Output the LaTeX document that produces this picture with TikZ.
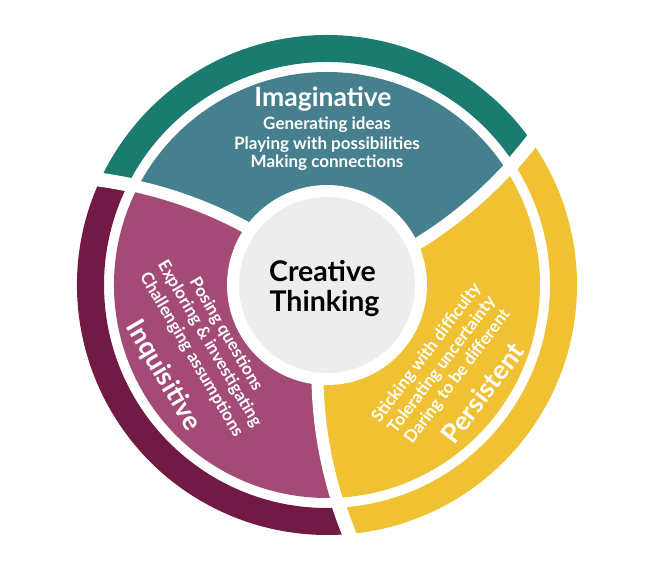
\documentclass[tikz,border=0pt]{standalone}
\usepackage{fontspec}
\setmainfont{Lato}
\definecolor{tealout}{HTML}{1B7B6E}
\definecolor{tealin}{HTML}{467F8D}
\definecolor{magin}{HTML}{A34B76}
\definecolor{marout}{HTML}{701A45}
\definecolor{yel}{HTML}{F0C233}
\definecolor{graybg}{HTML}{EDEDED}
\newcommand{\innersector}[3]{%
  \fill[#1] (0,0) -- plot[domain=90:213,samples=25] ({#2+0.07*(\x-100)}:{\x})
    arc[start angle={#2+0.07*113}, end angle={#3+0.07*113}, radius=213]
    -- plot[domain=213:90,samples=25] ({#3+0.07*(\x-100)}:{\x}) -- cycle;}
\newcommand{\outerseg}[3]{%
  \fill[#1] plot[domain=223:250,samples=8] ({#2+0.07*(\x-100)}:{\x})
    arc[start angle={#2+0.07*150}, end angle={#3+0.07*150}, radius=250]
    -- plot[domain=250:223,samples=8] ({#3+0.07*(\x-100)}:{\x})
    arc[start angle={#3+0.07*123}, end angle={#2+0.07*123}, radius=223] -- cycle;}
\begin{document}
\begin{tikzpicture}[x=1pt,y=1pt,
  ttl/.style={text=white, font=\bfseries\fontsize{26.5}{30}\selectfont, inner sep=0pt},
  itm/.style={text=white, font=\bfseries\fontsize{17}{19}\selectfont, inner sep=0pt},
  ctr/.style={text=black, font=\bfseries\fontsize{28.5}{32}\selectfont, inner sep=0pt}]
\useasboundingbox (-327,-281) rectangle (323,285);
% inner sectors
\innersector{tealin}{24.6}{144.6}
\innersector{magin}{144.6}{264.6}
\innersector{yel}{264.6}{384.6}
% outer ring
\outerseg{tealout}{24.6}{144.6}
\outerseg{marout}{144.6}{264.6}
\outerseg{yel}{264.6}{384.6}
% gaps
\foreach \t in {24.6,144.6,264.6}{
  \draw[white, line width=12pt] plot[domain=92:218,samples=25] ({\t+0.07*(\x-100)}:{\x});
  \draw[white, line width=14pt] plot[domain=216:258,samples=10] ({\t+0.07*(\x-100)}:{\x});
}
% centre
\fill[white] (0,0) circle[radius=100];
\fill[graybg] (0,0) circle[radius=88];
\node[ctr, anchor=base] (c1) at (-4.5,3.5) {Creative};
\node[ctr, anchor=base] (c2) at (-2.5,-26.7) {Thinking};
% Imaginative
\node[ttl, anchor=base] (i0) at (-4,179) {Imaginative};
\node[itm, anchor=base] (i1) at (0,155.7) {Generating ideas};
\node[itm, anchor=base] (i2) at (0,136) {Playing with possibilities};
\node[itm, anchor=base] (i3) at (0,117.3) {Making connections};
% Persistent
\begin{scope}[shift={(99.7,-68.3)}, rotate=53, transform shape]
  \node[itm] (p1) at (0,0) {Sticking with difficulty};
  \node[itm] (p2) at (0,-19.4) {Tolerating uncertainty};
  \node[itm] (p3) at (0,-38.8) {Daring to be different};
  \node[ttl] (p4) at (2,-68.4) {Persistent};
\end{scope}
% Inquisitive
\begin{scope}[shift={(-101.2,-49.2)}, rotate=-59.5, transform shape]
  \node[itm] (q1) at (0,0) {Posing questions};
  \node[itm] (q2) at (0,-19.1) {Exploring \& investigating};
  \node[itm] (q3) at (0,-40.2) {Challenging assumptions};
  \node[ttl] (q4) at (4,-75) {Inquisitive};
\end{scope}
\end{tikzpicture}
\end{document}
